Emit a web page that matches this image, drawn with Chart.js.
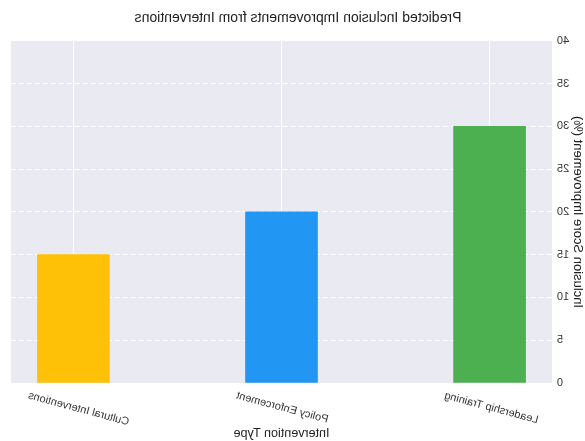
<!DOCTYPE html>
<html>
<head>
<meta charset="utf-8">
<script src="https://cdn.jsdelivr.net/npm/chart.js@4.4.1/dist/chart.umd.min.js"></script>
<style>
html, body { margin: 0; padding: 0; background: #fff; }
#wrap { width: 585px; height: 441px; transform: scaleX(-1); }
</style>
</head>
<body>
<div id="wrap"><canvas id="chart" width="585" height="441"></canvas></div>
<script>
// the reference is a mirror image, so the canvas is drawn normally and flipped with css
const categories = ["Leadership Training", "Policy Enforcement", "Cultural Interventions"];
const improvements = [30, 20, 15];
const barColors = ["#4CAF50", "#2196F3", "#FFC107"];
const yMin = 0, yMax = 40, yStep = 5;

const plotBg = {
    id: "plotBg",
    beforeDraw(chart) {
        const a = chart.chartArea, ctx = chart.ctx;
        ctx.save();
        ctx.fillStyle = "#EAEAF2";
        ctx.fillRect(a.left, a.top, a.right - a.left, a.bottom - a.top);
        ctx.restore();
    }
};

const ctx = document.getElementById("chart").getContext("2d");
new Chart(ctx, {
    type: "bar",
    data: {
        datasets: [{
            data: categories.map((c, i) => ({ x: i, y: improvements[i] })),
            backgroundColor: barColors,
            borderWidth: 0,
            barThickness: 72
        }]
    },
    options: {
        responsive: false,
        animation: false,
        layout: { padding: { top: 4, right: 11, bottom: 0, left: 0 } },
        plugins: {
            legend: { display: false },
            tooltip: { enabled: false },
            title: {
                display: true,
                text: "Predicted Inclusion Improvements from Interventions",
                color: "#222",
                font: { family: "Liberation Sans, Arial", size: 14, weight: "normal" },
                padding: { top: 6, bottom: 14 }
            }
        },
        scales: {
            x: {
                type: "linear",
                min: -0.3,
                max: 2.3,
                offset: false,
                afterBuildTicks: s => { s.ticks = categories.map((c, i) => ({ value: i })); },
                afterFit: s => { s.height = 58; s.paddingLeft = 0; s.paddingRight = 0; },
                ticks: {
                    callback: v => categories[v],
                    minRotation: 15,
                    maxRotation: 15,
                    labelOffset: 45,
                    padding: 6,
                    color: "#333",
                    font: { family: "Liberation Sans, Arial", size: 11 }
                },
                grid: { color: "#ffffff", lineWidth: 1, drawTicks: false, offset: false },
                border: { display: false },
                title: {
                    display: true,
                    text: "Intervention Type",
                    color: "#222",
                    font: { family: "Liberation Sans, Arial", size: 12.5 },
                    padding: { top: 0, bottom: 0 }
                }
            },
            y: {
                min: yMin,
                max: yMax,
                afterFit: s => { s.width = 33; },
                ticks: {
                    stepSize: yStep,
                    color: "#333",
                    padding: 5,
                    font: { family: "Liberation Sans, Arial", size: 11 }
                },
                grid: { color: "#ffffff", lineWidth: 1, drawTicks: false },
                border: { display: false, dash: [5, 3] },
                title: {
                    display: true,
                    text: "Inclusion Score Improvement (%)",
                    color: "#222",
                    font: { family: "Liberation Sans, Arial", size: 13 },
                    padding: { top: 0, bottom: 0 }
                }
            }
        }
    },
    plugins: [plotBg]
});
</script>
</body>
</html>
